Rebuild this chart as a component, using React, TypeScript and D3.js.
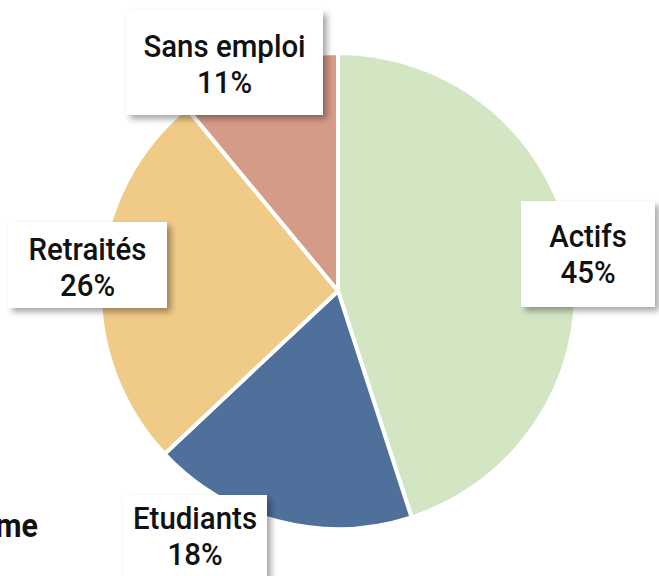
import React from "react";
import * as d3 from "d3";

const categories = ["Actifs", "Etudiants", "Retraités", "Sans emploi"];
const values = [45, 18, 26, 11];
const colors = ["#D2E6C3", "#50709C", "#F0CA87", "#D49B87"];

// label box layout per category
const labelBoxes = [
  { x: 521, y: 201, w: 134, h: 106 },
  { x: 123, y: 495, w: 144, h: 100 },
  { x: 8, y: 222, w: 159, h: 86 },
  { x: 126, y: 10, w: 197, h: 105 },
];
const firstBaselines = [247, 529, 260, 57];

export default function App() {
  const W = 659, H = 576;
  const cx = 338, cy = 291, r = 238;
  const pie = d3.pie<number>().sort(null).value((d) => d);
  const arcs = pie(values);
  const arc = d3.arc<d3.PieArcDatum<number>>().innerRadius(0).outerRadius(r);
  const font = "Roboto, sans-serif";
  return (
    <svg width={W} height={H} style={{ position: "absolute", left: 0, top: 0 }}>
      <defs>
        <filter id="sh" x="-20%" y="-20%" width="150%" height="150%">
          <feDropShadow dx="4" dy="4" stdDeviation="3" floodColor="#000" floodOpacity="0.35" />
        </filter>
      </defs>
      <rect width={W} height={H} fill="#fff" />
      <g transform={`translate(${cx},${cy})`}>
        {arcs.map((a, i) => (
          <path key={i} d={arc(a) || ""} fill={colors[i]} stroke="#fff" strokeWidth={4} strokeLinejoin="round" />
        ))}
      </g>
      <g transform="translate(38,537) scale(0.92,1)">
        <text x={0} y={0} textAnchor="end" fontFamily={font} fontWeight={700} fontSize={33} fill="#111">me</text>
      </g>
      {categories.map((c, i) => {
        const b = labelBoxes[i];
        const mx = b.x + b.w / 2;
        const y0 = firstBaselines[i];
        return (
          <g key={c}>
            <rect x={b.x} y={b.y} width={b.w} height={b.h} fill="#fff" filter="url(#sh)" />
            <g transform={`translate(${mx},0) scale(0.92,1)`}>
              <text x={0} y={y0} textAnchor="middle" fontFamily={font} fontWeight={500} fontSize={32} fill="#111">{c}</text>
              <text x={0} y={y0 + 36} textAnchor="middle" fontFamily={font} fontWeight={500} fontSize={32} fill="#111">{values[i]}%</text>
            </g>
          </g>
        );
      })}
    </svg>
  );
}
